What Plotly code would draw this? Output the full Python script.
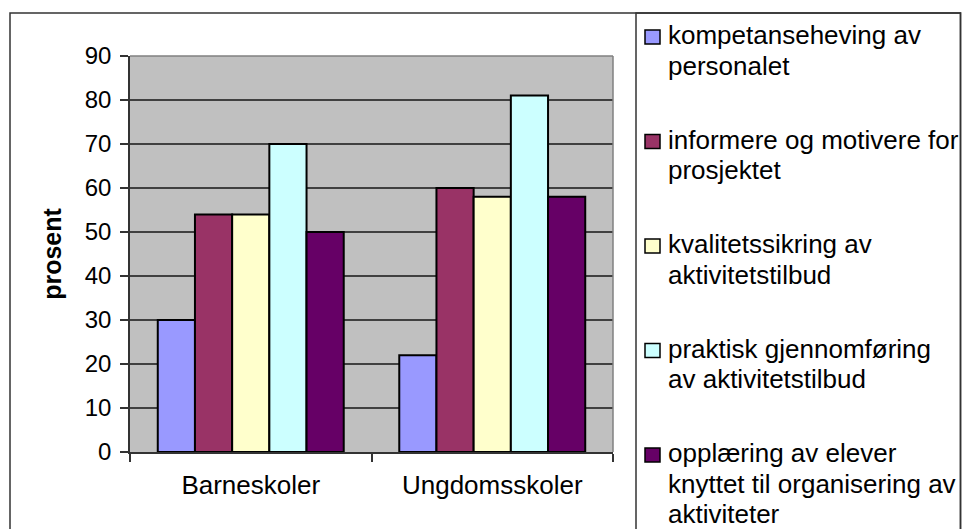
import plotly.graph_objects as go

categories = ["Barneskoler", "Ungdomsskoler"]
series_names = [
    "kompetanseheving av personalet",
    "informere og motivere for prosjektet",
    "kvalitetssikring av aktivitetstilbud",
    "praktisk gjennomføring av aktivitetstilbud",
    "opplæring av elever knyttet til organisering av aktiviteter",
]
legend_lines = [
    ["kompetanseheving av", "personalet"],
    ["informere og motivere for", "prosjektet"],
    ["kvalitetssikring av", "aktivitetstilbud"],
    ["praktisk gjennomføring", "av aktivitetstilbud"],
    ["opplæring av elever", "knyttet til organisering av", "aktiviteter"],
]
values_kompetanse = [30, 22]
values_informere = [54, 60]
values_kvalitet = [54, 58]
values_praktisk = [70, 81]
values_opplaering = [50, 58]
colors = ["#9999FF", "#993366", "#FFFFCC", "#CCFFFF", "#660066"]
y_ticks = [0, 10, 20, 30, 40, 50, 60, 70, 80, 90]

W, H = 962, 529
L, R, T, B = 130, 613, 56, 452

def px_x(p):
    return (p - L) / (R - L)

def px_y(p):
    return (B - p) / (B - T)

fig = go.Figure()
all_vals = [values_kompetanse, values_informere, values_kvalitet, values_praktisk, values_opplaering]
for name, vals, col in zip(series_names, all_vals, colors):
    fig.add_trace(go.Bar(
        x=categories, y=vals, name=name,
        marker=dict(color=col, line=dict(color="black", width=2)),
    ))

font_family = "Liberation Sans, Arial, sans-serif"

shapes = [
    dict(type="rect", xref="paper", yref="paper",
         x0=px_x(10), x1=px_x(960.5), y0=px_y(600), y1=px_y(13),
         line=dict(color="#333333", width=1.5), fillcolor="rgba(0,0,0,0)", layer="below"),
    dict(type="rect", xref="paper", yref="paper",
         x0=px_x(636), x1=px_x(960.5), y0=px_y(600), y1=px_y(13),
         line=dict(color="#333333", width=1.5), fillcolor="rgba(0,0,0,0)", layer="below"),
    dict(type="line", xref="paper", yref="paper", x0=0, x1=1, y0=1, y1=1,
         line=dict(color="#808080", width=1.5)),
    dict(type="line", xref="paper", yref="paper", x0=1, x1=1, y0=0, y1=1,
         line=dict(color="#808080", width=1.5)),
]
annotations = []
item_top = 37
item_step = 104.5
line_step = 30.5
for i, (lines, col) in enumerate(zip(legend_lines, colors)):
    cy = item_top + i * item_step
    shapes.append(dict(type="rect", xref="paper", yref="paper",
                       x0=px_x(645), x1=px_x(660), y0=px_y(cy + 7), y1=px_y(cy - 7),
                       line=dict(color="black", width=1.5), fillcolor=col))
    for j, txt in enumerate(lines):
        annotations.append(dict(
            xref="paper", yref="paper", x=px_x(666), y=px_y(cy + j * line_step - 2),
            xanchor="left", yanchor="middle", text=txt, showarrow=False,
            font=dict(family=font_family, size=26, color="black"),
        ))

fig.update_layout(
    width=W, height=H,
    margin=dict(l=L, r=W - R, t=T, b=H - B, autoexpand=False),
    paper_bgcolor="white",
    plot_bgcolor="#C0C0C0",
    barmode="group",
    bargap=0.23,
    bargroupgap=0,
    font=dict(family=font_family, size=24, color="black"),
    showlegend=False,
    shapes=shapes,
    annotations=annotations,
    xaxis=dict(
        showgrid=False,
        showline=True, linecolor="#333333", linewidth=1.5,
        ticks="outside", ticklen=8, tickcolor="#333333", tickwidth=1.5,
        tickson="boundaries",
        tickfont=dict(family=font_family, size=26),
        ticklabelstandoff=9,
    ),
    yaxis=dict(
        range=[0, 90],
        tickvals=y_ticks,
        showgrid=True, gridcolor="#404040", gridwidth=1.5,
        showline=True, linecolor="#333333", linewidth=1.5,
        ticks="outside", ticklen=8, tickcolor="#333333", tickwidth=1.5,
        tickfont=dict(family=font_family, size=24),
        ticklabelstandoff=4,
        zeroline=False,
        title=dict(text="<b>prosent</b>", font=dict(family=font_family, size=25), standoff=16),
    ),
)

fig.write_html(
    "out.html",
    config={"displayModeBar": False},
    post_script="document.body.style.margin='0';document.body.style.overflow='hidden';",
)
